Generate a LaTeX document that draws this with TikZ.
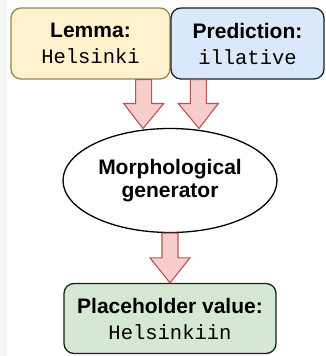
\documentclass[tikz,border=0pt]{standalone}
\usepackage{fontspec}
\setmainfont{Liberation Sans}
\newfontfamily\monofam{Liberation Mono}
\usetikzlibrary{shapes.geometric,calc}
\definecolor{yelfill}{HTML}{FFF2CC}
\definecolor{yeldraw}{HTML}{9A8550}
\definecolor{blufill}{HTML}{DAE8FC}
\definecolor{grnfill}{HTML}{D5E8D4}
\definecolor{boxdraw}{HTML}{1E1E1E}
\definecolor{arrfill}{HTML}{F8CECC}
\definecolor{arrdraw}{HTML}{B85450}
\definecolor{stripe}{HTML}{F6F6F6}
\tikzset{
  txt/.style={font=\fontsize{21}{26}\selectfont\bfseries, align=center, inner sep=0pt},
  boxnode/.style={txt, rectangle, rounded corners=10pt, line width=1.3pt},
  barrow/.style={fill=arrfill, draw=arrdraw, line width=1.1pt, line join=miter},
}
\newcommand\mono[1]{{\monofam\mdseries\fontsize{20.5}{26}\selectfont #1}}
\newcommand\blockarr[2]{%
  \draw[barrow] let \p1=(#1), \p2=(#2) in
    (\x1-8pt,\y1) -- (\x1+8pt,\y1) -- (\x1+8pt,\y2+25pt) -- (\x1+20pt,\y2+25pt)
    -- (\x2,\y2) -- (\x1-20pt,\y2+25pt) -- (\x1-8pt,\y2+25pt) -- cycle;}
\begin{document}
\begin{tikzpicture}[x=1pt,y=-1pt]
\useasboundingbox (0,0) rectangle (325,356);
\fill[stripe] (0,0) rectangle (7,356);
\node[boxnode, fill=yelfill, draw=yeldraw, minimum width=159pt, minimum height=71pt] (lem) at (90.5,43.5) {Lemma:\\\mono{Helsinki}};
\node[boxnode, fill=blufill, draw=boxdraw, minimum width=153pt, minimum height=71pt] (pred) at (247.5,43.5) {Prediction:\\\mono{illative}};
\node[txt, ellipse, draw=black, fill=white, line width=1.3pt, minimum width=214pt, minimum height=104pt] (gen) at (170,180.5) {Morphological\\[-3pt]generator};
\node[boxnode, fill=grnfill, draw=boxdraw, minimum width=212pt, minimum height=70pt] (out) at (170,318.5) {Placeholder value:\\\mono{Helsinkiin}};
\coordinate (s1) at ($(lem.south east)+(-27,0)$);
\coordinate (t1) at (143,128.5);
\coordinate (s2) at ($(pred.south west)+(28,0)$);
\coordinate (t2) at (199,128.5);
\coordinate (s3) at (gen.south);
\coordinate (t3) at (out.north);
\blockarr{s1}{t1}
\blockarr{s2}{t2}
\blockarr{s3}{t3}
\end{tikzpicture}
\end{document}
